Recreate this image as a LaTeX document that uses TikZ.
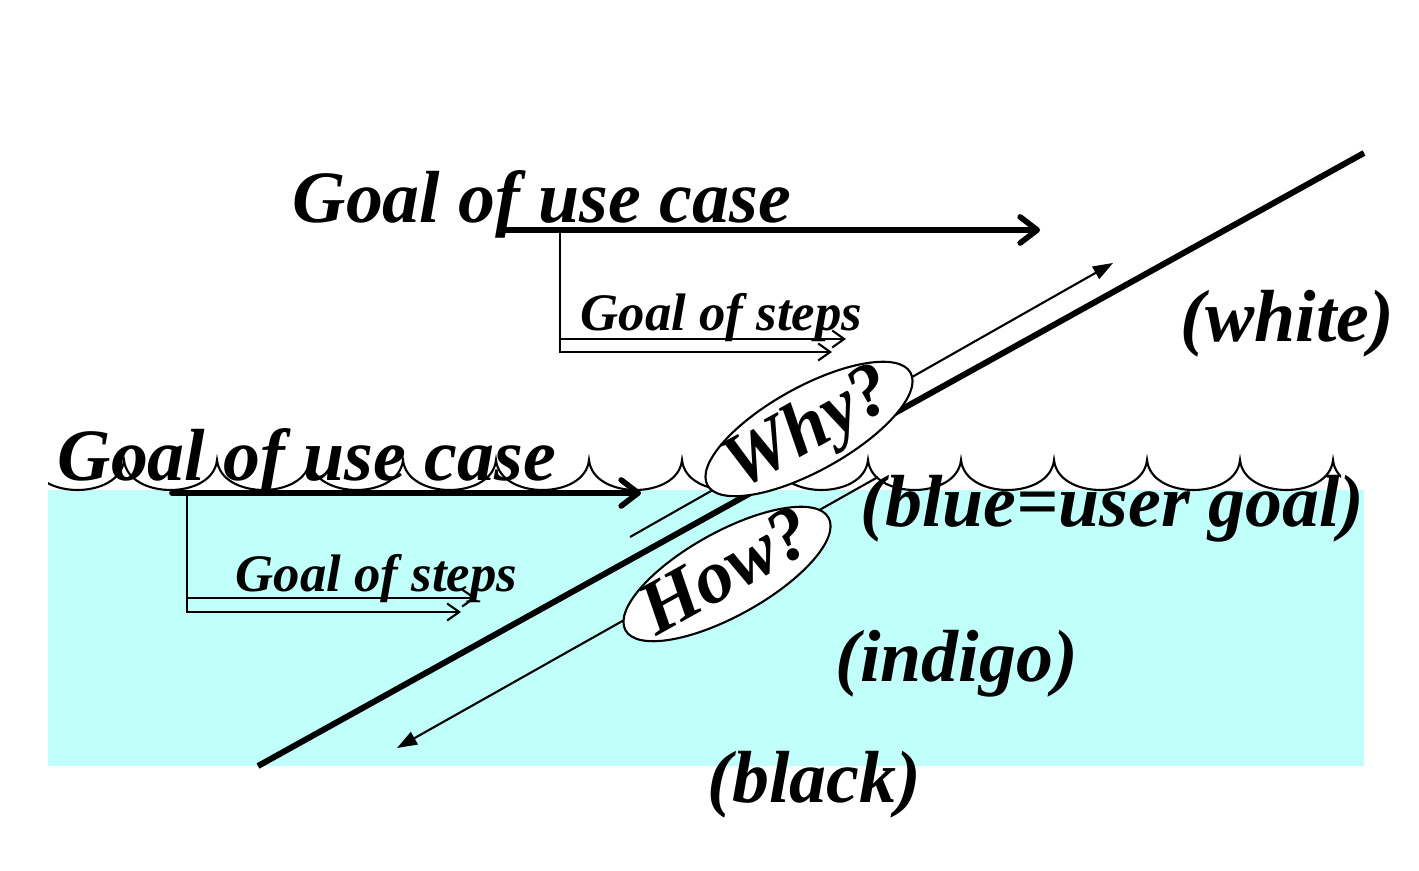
\documentclass[tikz,border=0pt]{standalone}
\usepackage{fontspec}
\setmainfont{Liberation Serif}
\usetikzlibrary{arrows.meta,shapes.geometric}
\tikzstyle{bigtext}=[font=\fontsize{21}{25}\selectfont\bfseries\itshape,inner sep=0pt,anchor=base west]
\tikzstyle{smalltext}=[font=\fontsize{15}{18}\selectfont\bfseries\itshape,inner sep=0pt,anchor=base west]
\tikzstyle{goalarrow}=[line width=1.6pt,line cap=round,-{Straight Barb[length=0.17cm,width=0.26cm,round]}]
\tikzstyle{steparrow}=[line width=0.6pt,-{Straight Barb[length=0.12cm,width=0.17cm]}]
\tikzstyle{askarrow}=[line width=0.6pt,-{Triangle[length=0.2cm,width=0.14cm]}]
\tikzstyle{askoval}=[draw,fill=white,ellipse,line width=0.6pt,rotate=29,minimum width=2.32cm,minimum height=0.84cm,inner sep=0pt,text height=0.46cm,text depth=0.05cm,font=\fontsize{21.5}{26}\selectfont\bfseries\itshape]
\definecolor{shallowsea}{RGB}{192,255,250}

\begin{document}
\begin{tikzpicture}[x=0.01cm,y=-0.01cm]
\useasboundingbox (0,0) rectangle (1419,871);
\fill[shallowsea] (48,490) rectangle (1364,766);
\begin{scope}
\clip (48,400) rectangle (1341,520);
\draw[line width=0.6pt] (31,460) \foreach \k in {1,...,15} { .. controls +(4,40) and +(-4,40) .. ++(93,0) };
\end{scope}
\coordinate (shoreLow) at (258,766);
\coordinate (shoreHigh) at (1364,153);
\coordinate (whyFrom) at (630,537);
\coordinate (whyTo) at (1113,263);
\coordinate (howFrom) at (878,477);
\coordinate (howTo) at (397,748);
\coordinate (ucTopL) at (503,230);
\coordinate (ucTopR) at (1040,230);
\coordinate (stTopK) at (560,230);
\coordinate (stTopA) at (560,339);
\coordinate (stTopEndA) at (846,339);
\coordinate (stTopEndB) at (832,352);
\coordinate (ucLowL) at (172,493);
\coordinate (ucLowR) at (641,493);
\coordinate (stLowK) at (187,493);
\coordinate (stLowA) at (187,598);
\coordinate (stLowEndA) at (476,598);
\coordinate (stLowEndB) at (461,612);
\draw[line width=1.7pt] (shoreLow) -- (shoreHigh);
\draw[askarrow] (whyFrom) -- (whyTo);
\draw[askarrow] (howFrom) -- (howTo);
\draw[goalarrow] (ucTopL) -- (ucTopR);
\draw[steparrow] (stTopK) |- (stTopEndB);
\draw[steparrow] (stTopA) -- (stTopEndA);
\draw[goalarrow] (ucLowL) -- (ucLowR);
\draw[steparrow] (stLowK) |- (stLowEndB);
\draw[steparrow] (stLowA) -- (stLowEndA);
\draw (809,429) node [askoval] (why) {\makebox[1.4cm]{Why?}};
\draw (727,574) node [askoval] (how) {\makebox[1.4cm]{How?}};
\draw (292,223) node [bigtext] (ucTop) {Goal of use case};
\draw (57,481) node [bigtext] (ucLow) {Goal of use case};
\draw (580,331) node [smalltext] (stepsTop) {Goal of steps};
\draw (235,592) node [smalltext] (stepsLow) {Goal of steps};
\draw (1180,342) node [bigtext] (white) {(white)};
\draw (860,527) node [bigtext] (blue) {(blue=user goal)};
\draw (835,682) node [bigtext] (indigo) {(indigo)};
\draw (707,803) node [bigtext] (black) {(black)};
\end{tikzpicture}
\end{document}
